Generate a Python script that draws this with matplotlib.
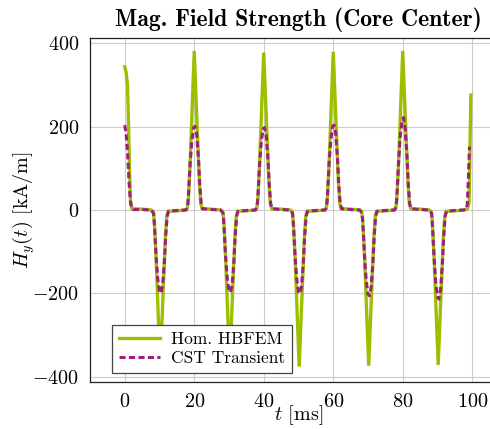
import matplotlib
matplotlib.use("Agg")
import matplotlib.pyplot as plt

plt.rcParams["font.family"] = "serif"
plt.rcParams["font.serif"] = ["cmr10"]
plt.rcParams["mathtext.fontset"] = "cm"
plt.rcParams["axes.formatter.use_mathtext"] = True

# Hom. HBFEM, core-centre field strength H_y in kA/m over t in ms
t_hbfem = [
    0.0, 0.4, 0.8, 1.1, 1.4, 1.7, 2.1, 5.0, 7.6,
    8.2, 8.5, 9.0, 9.6, 10.2, 10.7, 11.2, 11.7, 12.1, 12.5, 15.0, 17.6,
    18.0, 18.3, 18.8, 19.4, 20.0, 20.5, 21.0, 21.5, 21.9, 22.3, 25.0, 27.6,
    28.2, 28.5, 29.0, 29.6, 30.2, 30.7, 31.2, 31.7, 32.1, 32.5, 35.0, 37.6,
    38.0, 38.3, 38.8, 39.4, 40.0, 40.5, 41.0, 41.5, 41.9, 42.3, 45.0, 47.6,
    48.2, 48.5, 49.0, 49.6, 50.2, 50.7, 51.2, 51.7, 52.1, 52.5, 55.0, 57.6,
    58.0, 58.3, 58.8, 59.4, 60.0, 60.5, 61.0, 61.5, 61.9, 62.3, 65.0, 67.6,
    68.2, 68.5, 69.0, 69.6, 70.2, 70.7, 71.2, 71.7, 72.1, 72.5, 75.0, 77.6,
    78.0, 78.3, 78.8, 79.4, 80.0, 80.5, 81.0, 81.5, 81.9, 82.3, 85.0, 87.6,
    88.2, 88.5, 89.0, 89.6, 90.2, 90.7, 91.2, 91.7, 92.1, 92.5, 95.0, 97.6,
    98.6, 99.1, 99.35, 99.6,
]
h_hbfem = [
    344, 330, 300, 200, 90, 15, 3, 2, 0,
    -4, -25, -110, -245, -378, -270, -165, -65, -15, -3, -2, 0,
    4, 25, 110, 245, 382, 270, 165, 65, 15, 3, 2, 0,
    -4, -25, -108, -244, -376, -268, -165, -66, -15, -3, -2, 0,
    4, 25, 110, 246, 378, 270, 166, 65, 15, 3, 2, 0,
    -4, -26, -110, -246, -376, -270, -165, -65, -15, -3, -2, 0,
    4, 25, 110, 245, 380, 272, 166, 66, 15, 3, 2, 0,
    -4, -25, -108, -244, -374, -268, -164, -65, -15, -3, -2, 0,
    4, 26, 112, 248, 382, 272, 168, 66, 15, 3, 2, 0,
    -4, -25, -108, -242, -372, -266, -163, -64, -15, -3, -2, 0,
    3, 18, 150, 276,
]

# CST Transient reference
t_cst = [
    0.0, 0.4, 0.8, 1.2, 1.6, 2.0, 2.4, 5.0, 7.6,
    8.3, 8.6, 9.0, 9.5, 10.0, 10.4, 10.9, 11.4, 11.8, 12.2, 12.6, 15.0, 17.6,
    18.1, 18.4, 18.8, 19.3, 19.8, 20.2, 20.7, 21.2, 21.6, 22.0, 22.4, 25.0, 27.6,
    28.3, 28.6, 29.0, 29.5, 30.0, 30.4, 30.9, 31.4, 31.8, 32.2, 32.6, 35.0, 37.6,
    38.1, 38.4, 38.8, 39.3, 39.8, 40.2, 40.7, 41.2, 41.6, 42.0, 42.4, 45.0, 47.6,
    48.3, 48.6, 49.0, 49.5, 50.0, 50.4, 50.9, 51.4, 51.8, 52.2, 52.6, 55.0, 57.6,
    58.1, 58.4, 58.8, 59.3, 59.8, 60.2, 60.7, 61.2, 61.6, 62.0, 62.4, 65.0, 67.6,
    68.3, 68.6, 69.0, 69.5, 70.0, 70.4, 70.9, 71.4, 71.8, 72.2, 72.6, 75.0, 77.6,
    78.1, 78.4, 78.8, 79.3, 79.8, 80.2, 80.7, 81.2, 81.6, 82.0, 82.4, 85.0, 87.6,
    88.3, 88.6, 89.0, 89.5, 90.0, 90.4, 90.9, 91.4, 91.8, 92.2, 92.6, 95.0, 97.6,
    98.3, 98.6, 98.9, 99.2,
]
h_cst = [
    204, 182, 140, 72, 22, 5, 1, 1, 0,
    -8, -45, -110, -165, -196, -200, -180, -125, -60, -15, -3, -1, 0,
    8, 45, 110, 165, 197, 201, 182, 125, 60, 15, 3, 1, 0,
    -8, -45, -110, -164, -194, -198, -180, -125, -60, -15, -3, -1, 0,
    8, 45, 110, 164, 194, 198, 180, 124, 60, 15, 3, 1, 0,
    -8, -45, -110, -166, -197, -201, -182, -125, -60, -15, -3, -1, 0,
    8, 45, 112, 168, 200, 204, 184, 126, 60, 15, 3, 1, 0,
    -8, -46, -112, -170, -202, -206, -186, -128, -61, -15, -3, -1, 0,
    8, 46, 115, 180, 212, 222, 195, 132, 62, 15, 3, 1, 0,
    -8, -46, -114, -175, -208, -214, -190, -130, -62, -15, -3, -1, 0,
    2, 16, 80, 152,
]

x_ticks = [0, 20, 40, 60, 80, 100]
y_ticks = [-400, -200, 0, 200, 400]

green = "#9BC000"
purple = "#A01E7C"

fig = plt.figure(figsize=(4.90, 4.29), dpi=100)
ax = fig.add_axes([90 / 490, 47 / 429, 417 / 490, 344 / 429])

ax.plot(t_hbfem, h_hbfem, color=green, lw=2.4, label="Hom. HBFEM",
        solid_joinstyle="miter", zorder=3)
ax.plot(t_cst, h_cst, color=purple, lw=2.2, dashes=(2.0, 1.1),
        label="CST Transient", zorder=4)

ax.set_xlim(-10, 110)
ax.set_ylim(-413, 413)
ax.set_xticks(x_ticks)
ax.set_yticks(y_ticks)
ax.grid(True, color="#cccccc", lw=0.8)
ax.set_axisbelow(True)
ax.tick_params(length=0, labelsize=14.5, pad=8)
for sp in ax.spines.values():
    sp.set_color("#222222")
    sp.set_linewidth(0.9)

ax.set_xlabel("$t$ [ms]", fontsize=14.5, labelpad=-6)
ax.set_ylabel("$H_y(t)$ [kA/m]", fontsize=14.5, labelpad=-4)
ax.set_title("Mag. Field Strength (Core Center)", fontsize=17,
             fontfamily="cmb10", pad=9)

leg = ax.legend(loc="lower left", bbox_to_anchor=(0.052, 0.025),
                borderaxespad=0, fontsize=12.5, fancybox=False,
                framealpha=1, edgecolor="#444444", handlelength=2.4,
                borderpad=0.4, labelspacing=0.25, handletextpad=0.6)
leg.get_frame().set_linewidth(0.9)

fig.savefig("out.png", dpi=100)
